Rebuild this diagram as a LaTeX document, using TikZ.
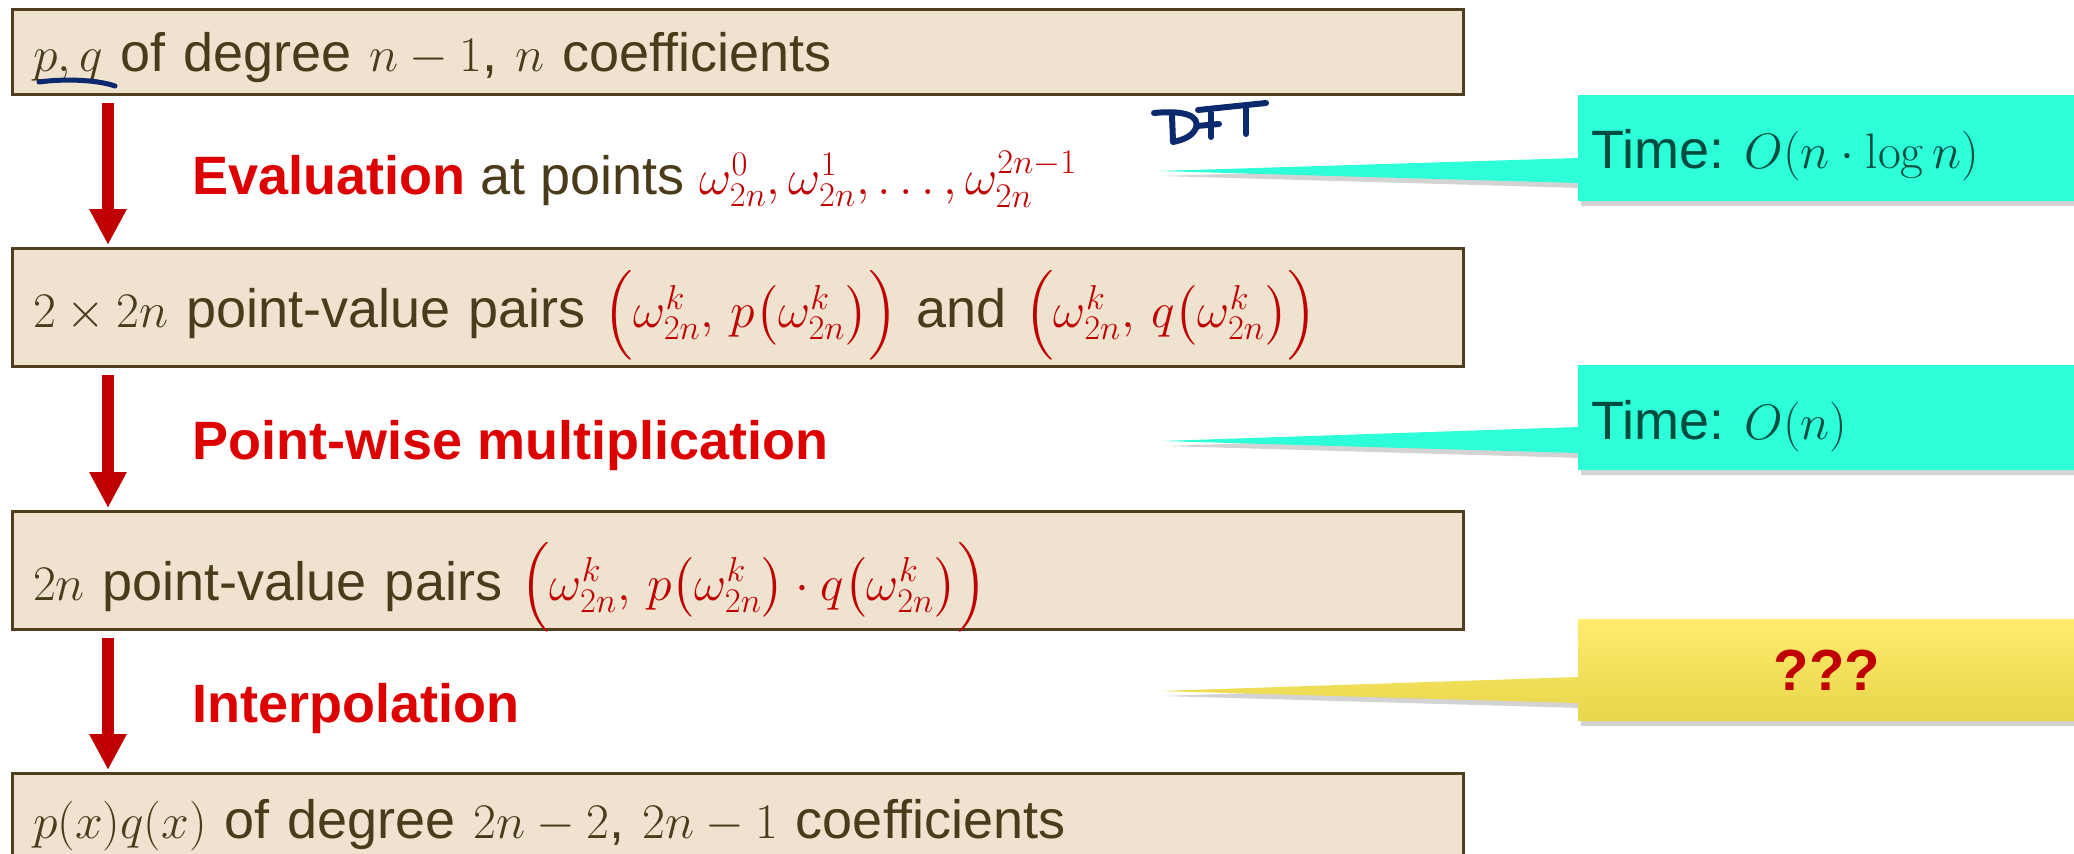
\documentclass[tikz,border=0pt]{standalone}
\usepackage{exscale}
\usepackage[no-math]{fontspec}
\setmainfont{Liberation Sans}
\usetikzlibrary{arrows.meta, positioning, shadows}
\definecolor{boxfill}{HTML}{EFE2CF}
\definecolor{boxline}{HTML}{4F3F1F}
\definecolor{boxtext}{HTML}{4A3B1B}
\definecolor{mathred}{HTML}{C00000}
\definecolor{labelred}{HTML}{DD0000}
\definecolor{timefill}{HTML}{2DFFD8}
\definecolor{timetext}{HTML}{004D3F}
\definecolor{qtop}{HTML}{FFEB6E}
\definecolor{qbottom}{HTML}{E6D64A}
\definecolor{inkblue}{HTML}{0B2A6E}
\newcommand{\bigfont}{\fontsize{27}{32}\selectfont}
\newcommand{\wk}{\omega_{2n}^{k}}
% inner parentheses, one step below \Big
\newcommand{\ilpar}{\mathopen{\hbox{$\left(\vcenter to 31pt{}\right.\nulldelimiterspace=0pt$}}}
\newcommand{\irpar}{\mathclose{\hbox{$\left.\vcenter to 31pt{}\right)\nulldelimiterspace=0pt$}}}
\tikzset{
  polybox/.style  = {draw=boxline, fill=boxfill, line width=1.5pt, text=boxtext,
                     minimum width=725.5pt, minimum height=42.5pt,
                     inner xsep=10pt, inner ysep=0pt, text width=705pt, align=left,
                     font=\bigfont, text depth=0pt},
  pairbox/.style  = {polybox, minimum height=59pt},
  flowarrow/.style= {-{Triangle[length=18pt, width=17.5pt]}, line width=6pt, draw=mathred,
                     shorten <=3.5pt, shorten >=1pt},
  steplabel/.style= {font=\bigfont, text=labelred, inner sep=0pt, anchor=base west},
  callout/.style  = {drop shadow={shadow xshift=1.5pt, shadow yshift=-2.5pt, opacity=0.35}},
  timelabel/.style= {font=\bigfont, text=timetext, inner sep=0pt, anchor=base west},
  ink/.style      = {draw=inkblue, line width=3pt, line cap=round, line join=round},
}
\begin{document}
\begin{tikzpicture}[x=0.5pt, y=-0.5pt, node distance=71pt]
  \useasboundingbox (0,0) rectangle (2074,853);
  % flow of the product
  \node[polybox] (pq) at (738,52) {$p, q$ of degree $n-1$, $n$ coefficients};
  \node[pairbox, below=75.5pt of pq, text height=20pt] (pv2)
    {$2\times 2n$ point-value pairs {\color{mathred}$\Big(\wk,\, p\ilpar\wk\irpar\Big)$} and
     {\color{mathred}$\Big(\wk,\, q\ilpar\wk\irpar\Big)$}};
  \node[pairbox, below=of pv2, text height=29.5pt] (pv)
    {$2n$ point-value pairs {\color{mathred}$\Big(\wk,\, p\ilpar\wk\irpar\cdot q\ilpar\wk\irpar\Big)$}};
  \node[polybox, below=70.5pt of pv, text height=22pt] (pqx)
    {$p(x)q(x)$ of degree $2n-2$, $2n-1$ coefficients};
  \coordinate (axis) at (108,0);
  \draw[flowarrow] (pq.south -| axis)  -- (pv2.north -| axis);
  \draw[flowarrow] (pv2.south -| axis) -- (pv.north -| axis);
  \draw[flowarrow] (pv.south -| axis)  -- (pqx.north -| axis);
  % step labels
  \node[steplabel] (evl) at (192,194) {\bfseries Evaluation\mdseries\ {\color{boxtext}at points}
    {\color{mathred}$\omega_{2n}^{0}, \omega_{2n}^{1}, \ldots, \omega_{2n}^{2n-1}$}};
  \node[steplabel] (pwl) at (192,459) {\bfseries Point-wise multiplication};
  \node[steplabel] (ipl) at (192,722) {\bfseries Interpolation};
  % callouts
  \coordinate (tip1) at (1159,171);
  \coordinate (tip2) at (1162,441);
  \coordinate (tip3) at (1159,691);
  \fill[timefill, callout] (1578,95) -- (2080,95) -- (2080,201) -- (1578,201)
    -- (1578,183) -- (tip1) -- (1578,158) -- cycle;
  \fill[timefill, callout] (1578,365) -- (2080,365) -- (2080,470) -- (1578,470)
    -- (1578,453) -- (tip2) -- (1578,427) -- cycle;
  \path[top color=qtop, bottom color=qbottom, callout] (1578,619) -- (2080,619) -- (2080,721)
    -- (1578,721) -- (1578,703) -- (tip3) -- (1578,677) -- cycle;
  \node[timelabel] (tfft) at (1591,168) {Time: $O(n\cdot\log n)$};
  \node[timelabel] (tmul) at (1591,439) {Time: $O(n)$};
  \node[font=\fontsize{29}{34}\selectfont\bfseries, text=mathred, inner sep=0pt] (tint)
    at (1827,670) {???};
  % ink notes
  \draw[ink] (1154,113) .. controls (1185,110) and (1200,116) .. (1196,128)
    .. controls (1192,137) and (1182,140) .. (1173,142);
  \draw[ink] (1172,116) -- (1173,141);
  \draw[ink] (1198,110) -- (1266,103);
  \draw[ink] (1211,113) -- (1211,137);
  \draw[ink] (1197,126) -- (1219,124);
  \draw[ink] (1246,107) -- (1246,134);
  \draw[ink, line width=2.5pt] (39,82) .. controls (60,79) and (95,79) .. (115,86);
\end{tikzpicture}
\end{document}
